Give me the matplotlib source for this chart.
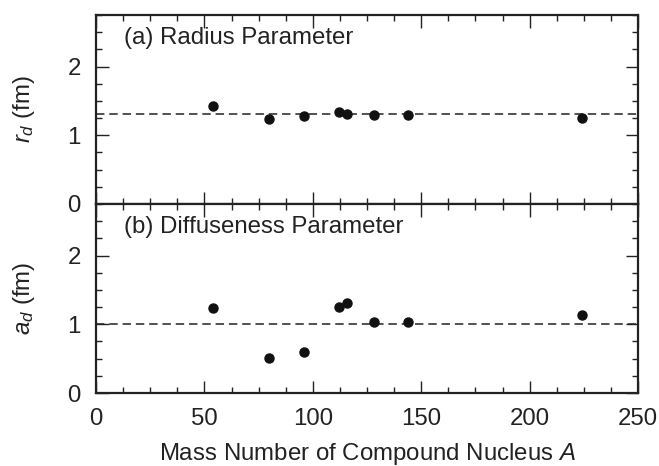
import matplotlib
matplotlib.use('Agg')
from matplotlib import pyplot as plt
from matplotlib.ticker import MultipleLocator

plt.rcParams['font.family'] = ['Liberation Sans', 'DejaVu Sans']
plt.rcParams['mathtext.fontset'] = 'custom'
plt.rcParams['mathtext.rm'] = 'Liberation Sans'
plt.rcParams['mathtext.it'] = 'Liberation Sans:italic'

# mass numbers of compound nuclei
mass = [54, 80, 96, 112, 116, 128, 144, 224]
# radius parameter r_d (fm)
r_d = [1.43, 1.24, 1.28, 1.335, 1.305, 1.295, 1.30, 1.25]
r_avg = 1.305
# diffuseness parameter a_d (fm)
a_d = [1.24, 0.51, 0.59, 1.245, 1.31, 1.04, 1.04, 1.13]
a_avg = 1.01

panels = [
    (r_d, r_avg, '(a) Radius Parameter', '$r_d$ (fm)'),
    (a_d, a_avg, '(b) Diffuseness Parameter', '$a_d$ (fm)'),
]

fig = plt.figure(figsize=(6.59, 4.66), dpi=100)
fs = 17.3
axes = []
for i, (vals, avg, title, ylab) in enumerate(panels):
    # axes in figure fractions: left 96px, right 638px, top 15, mid 204, bottom 393
    bottom = (466 - 204) / 466 if i == 0 else (466 - 393) / 466
    ax = fig.add_axes([96 / 659, bottom, 542 / 659, 189 / 466])
    ax.plot(mass, vals, 'o', color='#111111', ms=6.5, zorder=3)
    ax.axhline(avg, color='#222222', lw=1.1, ls=(0, (5.5, 3.2)))
    ax.set_xlim(0, 250)
    ax.set_ylim(0, 2.75)
    ax.xaxis.set_major_locator(MultipleLocator(50))
    ax.xaxis.set_minor_locator(MultipleLocator(12.5))
    ax.yaxis.set_major_locator(MultipleLocator(1))
    ax.yaxis.set_minor_locator(MultipleLocator(0.25))
    ax.tick_params(which='both', direction='in', top=True, right=True,
                   labelsize=fs, width=1.0, color='#222222',
                   labelcolor='#222222')
    ax.tick_params(which='major', length=9, pad=11)
    ax.tick_params(which='minor', length=4.5)
    for s in ax.spines.values():
        s.set_linewidth(1.6)
        s.set_color('#222222')
    ax.text(0.052, 0.845, title, transform=ax.transAxes, fontsize=fs,
            color='#222222')
    ax.set_ylabel(ylab, fontsize=fs, color='#222222')
    ax.yaxis.set_label_coords(-0.108, 0.5)
    axes.append(ax)

axes[0].tick_params(labelbottom=False)
axes[1].set_xlabel('Mass Number of Compound Nucleus $A$', fontsize=fs,
                   color='#222222', labelpad=8)

fig.savefig('out.png', dpi=100)
